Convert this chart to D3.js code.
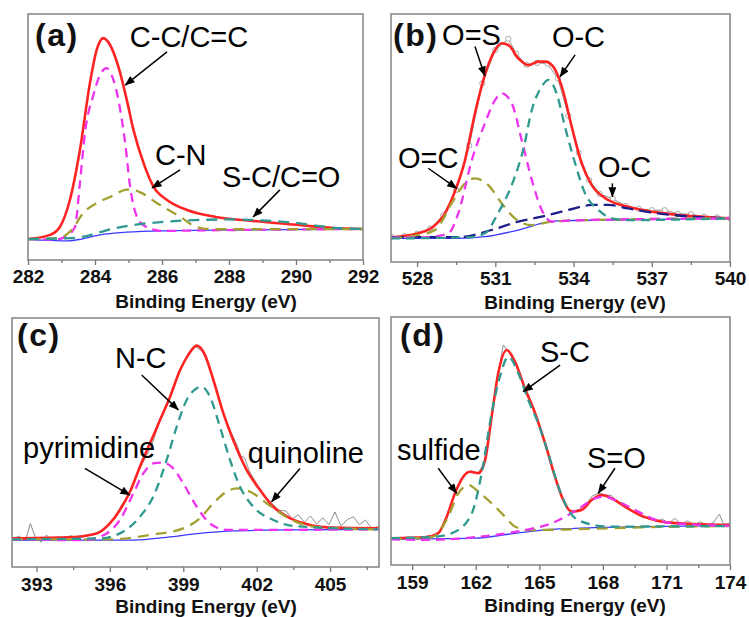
<!DOCTYPE html>
<html>
<head>
<meta charset="utf-8">
<script src="https://cdn.jsdelivr.net/npm/d3@7"></script>
<style>
  body { margin: 0; background: #fff; }
  svg { display: block; font-family: "Liberation Sans", Arial, sans-serif; }
</style>
</head>
<body>
<svg id="chart" width="749" height="617"></svg>
<script>
// ---- (a) C 1s ----
const aDomain = [282, 292];
const aTicks = [282, 284, 286, 288, 290, 292];
const aMinor = [283, 285, 287, 289, 291];
const aEnvelope = [[282, 8.5], [282.66, 10.2], [282.95, 13.4], [283.25, 24.4], [283.55, 44.7], [283.85, 72], [284.05, 85.4],
  [284.25, 90.2], [284.45, 87.4], [284.7, 78.5], [284.95, 65], [285.15, 52.8], [285.45, 39.4], [285.75, 29.7],
  [286.15, 24.4], [286.75, 20.3], [287.6, 17.5], [288.7, 15.9], [290.1, 14.2], [291.1, 13], [292, 12.6]];
const aCC = [[282, 8.5], [282.8, 8.3], [283.1, 9.3], [283.4, 13.4], [283.55, 31.3], [283.7, 51.6], [283.95, 67],
  [284.15, 75.2], [284.34, 78], [284.55, 73.2], [284.7, 65], [284.9, 47.6], [285.05, 29.7], [285.3, 16.3],
  [285.6, 13], [286, 11.8], [287, 12], [292, 12.6]];
const aCN = [[282, 8.5], [282.9, 8.9], [283.3, 12.2], [283.65, 19.1], [284.05, 23.2], [284.45, 25.6], [284.9, 28.5],
  [285.05, 28.7], [285.4, 27.2], [285.8, 23.6], [286.2, 20.3], [286.6, 17.1], [286.9, 14.2], [287.2, 12.9],
  [287.6, 12.5], [292, 12.6]];
const aSCCO = [[282, 8.5], [283.15, 8.8], [283.65, 9.5], [284.15, 11.3], [284.65, 13.1], [285.35, 14.6], [286.14, 15.6],
  [287.13, 16.3], [288.12, 16.5], [289.12, 16], [290.12, 14.9], [290.7, 13.8], [291.3, 12.9], [292, 12.6]];
const aBackground = [[282, 8.4], [283.2, 7.8], [283.6, 8.5], [284.15, 10.2], [284.95, 11.3], [286.2, 11.9],
  [288.2, 12.2], [292, 12.6]];
const aLabels = [["C-C/C=C", 285.04, 86.6], ["C-N", 285.79, 38.6], ["S-C/C=O", 287.79, 29.7]];
const aArrows = [[286.15, 84.6, 284.9, 71.1], [286.54, 36.6, 285.7, 29.3], [289.52, 28.5, 288.72, 17.5]];

// ---- (b) O 1s ----
const bDomain = [527, 540];
const bTicks = [528, 531, 534, 537, 540];
const bMinor = [529.5, 532.5, 535.5, 538.5];
const bRaw = [[527, 10.2], [527.5, 10.4], [528, 11.4], [528.5, 13.5], [529, 18.8], [529.5, 29], [530, 47],
  [530.5, 72], [531, 85.5], [531.5, 90], [531.8, 84], [532.2, 79.5], [532.6, 80.3], [533, 80], [533.4, 74],
  [533.8, 59], [534.2, 44], [534.6, 33], [535, 27.5], [535.5, 25.5], [536, 22.6], [536.5, 21.5], [537, 20.9],
  [537.5, 20.9], [538, 19.4], [538.5, 19.3], [539, 18.3], [539.5, 18], [540, 17.6]];
const bEnvelope = [[527.03, 10], [528.05, 11.6], [528.62, 14.2], [529.07, 19.6], [529.45, 28.4], [529.84, 41.1],
  [530.22, 60], [530.6, 75.4], [530.92, 84.1], [531.24, 88.2], [531.5, 87.5], [531.88, 82.1], [532.27, 79.4],
  [532.65, 80.8], [532.9, 80.8], [533.22, 78.8], [533.55, 70.7], [533.93, 54.6], [534.31, 39.8], [534.7, 31],
  [535.33, 25], [536.1, 22.3], [537.25, 19.9], [538.53, 18.5], [540, 17.6]];
const bOS = [[527, 9.8], [528.4, 10], [529.2, 11.6], [529.58, 19.6], [530.1, 41.1], [530.6, 55.9], [530.99, 65.3],
  [531.24, 68], [531.63, 64], [532.01, 49.2], [532.4, 33.1], [532.78, 21], [533.16, 16.3], [534, 16.8], [540, 17.6]];
const bOCHigh = [[527, 9.5], [530, 10], [530.6, 11.6], [531.1, 19.6], [531.75, 34.4], [532.07, 45.2], [532.4, 61.3],
  [532.78, 70.7], [533.03, 73.4], [533.35, 68], [533.67, 54.6], [534.06, 39.8], [534.44, 27.7], [534.95, 21],
  [535.46, 17.6], [536.1, 16.9], [540, 17.6]];
const bOC = [[527, 9.6], [528.05, 10.9], [528.69, 12.9], [529.33, 23.7], [529.84, 31.7], [530.22, 33.7],
  [530.73, 31], [531.24, 23.7], [531.75, 17.6], [532.4, 14.9], [533.16, 16.3], [534.5, 16.9], [540, 17.6]];
const bOCLow = [[527.03, 10], [529.58, 10], [530.86, 12.9], [531.88, 16.3], [532.78, 18.3], [533.8, 21],
  [534.7, 23], [535.33, 23], [536.1, 21.6], [537.25, 19.6], [538.53, 18.3], [540, 17.6]];
const bBackground = [[527.03, 9.5], [529.58, 9.5], [530.6, 10.2], [531.88, 12.9], [532.78, 15.6], [533.55, 16.7],
  [535.33, 16.9], [540, 17.6]];
const bLabels = [["O=S", 528.96, 87.5], ["O-C", 533.17, 86.7], ["O=C", 527.27, 37.9], ["O-C", 534.94, 34.3]];
const bArrows = [[530.22, 86.9, 530.6, 75], [534.06, 83.5, 533.48, 74.7], [528.43, 37.8, 529.52, 29.7],
  [535.49, 31.7, 535.49, 26.3]];

// ---- (c) N 1s ----
const cDomain = [392, 407];
const cTicks = [393, 396, 399, 402, 405];
const cMinor = [394.5, 397.5, 400.5, 403.5, 406.5];
const cRaw = [[392, 11.2], [392.3, 12.4], [392.55, 10.6], [392.75, 17.5], [392.95, 12], [393.2, 10], [393.4, 12.8],
  [393.65, 10.9], [393.9, 12.2], [394.15, 11], [394.4, 12.6], [394.7, 11.4], [395, 12.5], [395.3, 13], [395.6, 14.5],
  [395.9, 16.6], [396.2, 20], [396.5, 25.3], [396.8, 29], [397.1, 37], [397.4, 42.9], [397.7, 48.5], [398, 57.5],
  [398.3, 64], [398.6, 72], [398.9, 79.5], [399.2, 85.8], [399.5, 88.5], [399.8, 86.5], [400.1, 79], [400.4, 69.5],
  [400.7, 60], [401, 53], [401.2, 49], [401.35, 44.5], [401.5, 44], [401.7, 38.5], [402, 33.5], [402.3, 28.8],
  [402.6, 25.8], [402.9, 22.8], [403.2, 22.5], [403.45, 19.2], [403.7, 21], [403.95, 18], [404.2, 20.5],
  [404.45, 17.2], [404.7, 19.8], [404.95, 17], [405.2, 22.1], [405.45, 16.4], [405.7, 19], [405.95, 20.2],
  [406.2, 17], [406.45, 18.9], [406.7, 15.5], [407, 16.3]];
const cEnvelope = [[392, 11.5], [394.23, 11.9], [395.46, 13.5], [396, 17.5], [396.41, 22.9], [396.82, 30.2],
  [397.23, 40.3], [397.64, 49.7], [398.05, 59], [398.46, 68.4], [398.87, 79.1], [399.2, 85.1], [399.55, 88.9],
  [399.89, 85.1], [400.23, 75.1], [400.64, 61.7], [401.04, 51], [401.59, 39], [402.14, 30.9], [402.68, 24.2],
  [403.36, 19.6], [404.18, 16.9], [405.13, 15.8], [407, 15.5]];
const cPyrimidine = [[392, 11.1], [394.9, 10.8], [395.87, 13.5], [396.41, 18.9], [396.96, 29.6], [397.37, 37.6],
  [397.77, 41.6], [398.18, 41.9], [398.59, 39.6], [399, 33.6], [399.55, 24.2], [400.09, 17.5], [400.77, 14.9],
  [401.73, 14.9], [407, 15.1]];
const cNC = [[392, 11.1], [395.6, 11.5], [396.41, 13.5], [397.23, 20.2], [397.77, 28.2], [398.32, 43], [398.73, 56.3],
  [399.14, 67.1], [399.55, 71.8], [399.75, 72.4], [400.09, 68.4], [400.5, 56.3], [400.91, 43], [401.32, 32.2],
  [401.86, 24.2], [402.68, 18.9], [403.5, 16.5], [407, 15.1]];
const cQuinoline = [[392, 11.1], [396, 11.1], [397.64, 12.9], [399, 15.5], [399.68, 19.6], [400.23, 25.6],
  [400.77, 30.2], [401.18, 31.6], [401.73, 30.2], [402.41, 25.6], [403.09, 20.9], [403.77, 17.5], [404.59, 15.9],
  [407, 15.1]];
const cBackground = [[392, 10.8], [396.96, 10.8], [398.32, 11.9], [399.68, 13.5], [401.04, 14.5], [403.09, 14.9],
  [407, 15.1]];
const cLabels = [["N-C", 396.21, 79.9], ["pyrimidine", 392.45, 43.8], ["quinoline", 401.64, 41.6]];
const cArrows = [[397.3, 77.1, 398.8, 63.1], [394.98, 39.6, 396.82, 28.9], [403.77, 39.6, 402.61, 26.2]];

// ---- (d) S 2p ----
const dDomain = [158, 174];
const dTicks = [159, 162, 165, 168, 171, 174];
const dMinor = [160.5, 163.5, 166.5, 169.5, 172.5];
const dRaw = [[158, 11], [158.4, 10.6], [158.8, 11.3], [159.2, 10.8], [159.6, 11.5], [160, 12], [160.3, 13.8],
  [160.6, 19], [160.9, 26], [161.2, 32.5], [161.5, 36.5], [161.8, 38], [162.1, 37.2], [162.4, 41], [162.7, 56],
  [163, 74.5], [163.3, 88.7], [163.6, 85.5], [163.9, 81], [164.2, 74], [164.5, 68.5], [164.8, 62], [165.1, 54],
  [165.4, 46], [165.7, 37], [166, 28.5], [166.3, 22.5], [166.6, 21.8], [166.9, 22.5], [167.2, 24.5], [167.5, 27.8],
  [167.8, 29], [168.1, 28.3], [168.4, 28], [168.7, 25.5], [169, 24.8], [169.3, 22], [169.6, 20.8], [169.9, 19],
  [170.2, 19.5], [170.5, 17.4], [170.8, 18.6], [171.1, 16.8], [171.4, 18.8], [171.7, 16.4], [172, 17.8],
  [172.3, 16.2], [172.6, 17.5], [172.9, 16], [173.2, 17], [173.5, 20.5], [173.7, 16.4], [174, 16.8]];
const dEnvelope = [[158.03, 10.8], [159.6, 11.2], [160.23, 12.8], [160.63, 19.5], [161.02, 28.9], [161.41, 35.6],
  [161.73, 37.6], [162.12, 37], [162.44, 42.3], [162.75, 59.8], [163.06, 77.3], [163.46, 86.7], [163.85, 82],
  [164.32, 71.2], [164.8, 61.2], [165.27, 49.1], [165.74, 35.6], [166.13, 26.2], [166.53, 21.5], [167, 22.2],
  [167.47, 26.2], [167.94, 28.2], [168.41, 26.9], [169.04, 23.5], [169.83, 19.8], [170.77, 17.5], [172.19, 16.5],
  [174, 16.1]];
const dSC = [[158, 10.8], [160.08, 11.4], [161.02, 13.4], [161.81, 20.8], [162.28, 37], [162.75, 61.2],
  [163.14, 75.9], [163.54, 84], [164.01, 77.3], [164.48, 66.5], [164.95, 57.1], [165.42, 45], [165.9, 31.6],
  [166.37, 22.2], [167, 17.5], [168.25, 15.5], [174, 15.7]];
const dSulfide = [[158, 10.4], [159.92, 11.2], [160.7, 19.5], [161.18, 28.9], [161.65, 32.3], [162.12, 29.6],
  [162.75, 24.9], [163.38, 19.5], [163.85, 15.5], [164.48, 14.1], [166.68, 14.4], [169.83, 15.2], [174, 15.7]];
const dSO = [[158, 10.4], [159.6, 10.1], [161.96, 11.2], [164.32, 14.1], [165.58, 16.8], [166.37, 20.2], [167, 23.5],
  [167.63, 26.9], [168.1, 27.5], [168.73, 25.5], [169.52, 22.2], [170.3, 18.8], [171.4, 16.8], [174, 15.8]];
const dBackground = [[158, 10.4], [161.96, 10.8], [163.54, 12.4], [165.11, 14.1], [166.68, 14.8], [169.83, 15.5],
  [174, 15.8]];
const dLabels = [["S-C", 165.03, 81.9], ["sulfide", 158.28, 42.3], ["S=O", 167.25, 39.1]];
const dArrows = [[165.98, 80.6, 164.24, 69.9], [160.23, 39, 161.1, 28.9], [168.57, 39, 167.78, 28.9]];

const yDomain = [0, 100];

// colours
const RED = "#ff2323", MAGENTA = "#ee33ee", OLIVE = "#a3a032", TEAL = "#2f9990", NAVY = "#1e1e88",
      BLUE = "#3a3aff", GRAY = "#8f8f8f";

const svg = d3.select("#chart");

svg.append("defs").append("marker")
    .attr("id", "arrow")
    .attr("viewBox", "0 0 10 8")
    .attr("refX", 9.5).attr("refY", 4)
    .attr("markerWidth", 11).attr("markerHeight", 8)
    .attr("markerUnits", "userSpaceOnUse")
    .attr("orient", "auto")
  .append("path")
    .attr("d", "M0,0 L10,4 L0,8 Z")
    .attr("fill", "#000");

function drawPanel(p) {
  const x = d3.scaleLinear().domain(p.domain).range([p.left, p.right]);
  const y = d3.scaleLinear().domain(yDomain).range([p.bottom, p.top]);
  const g = svg.append("g");

  const clipId = "clip-" + p.name;
  svg.select("defs").append("clipPath").attr("id", clipId)
    .append("rect")
      .attr("x", p.left).attr("y", p.top)
      .attr("width", p.right - p.left).attr("height", p.bottom - p.top);

  const smooth = d3.line()
      .x(d => x(d[0]))
      .y(d => y(d[1]))
      .curve(d3.curveMonotoneX);
  const straight = d3.line()
      .x(d => x(d[0]))
      .y(d => y(d[1]));

  const plot = g.append("g").attr("clip-path", `url(#${clipId})`);

  if (p.raw) {
    plot.append("path").datum(p.raw)
        .attr("d", straight)
        .attr("fill", "none").attr("stroke", GRAY).attr("stroke-width", 1);
    if (p.rawDots) {
      plot.selectAll(".dot").data(p.raw).enter().append("circle")
          .attr("cx", d => x(d[0])).attr("cy", d => y(d[1])).attr("r", 2.6)
          .attr("fill", "#fff").attr("stroke", "#a8a8a8").attr("stroke-width", 1);
    }
  }

  plot.append("path").datum(p.background)
      .attr("d", smooth)
      .attr("fill", "none").attr("stroke", BLUE).attr("stroke-width", 1.3);

  plot.append("path").datum(p.envelope)
      .attr("d", smooth)
      .attr("fill", "none").attr("stroke", RED).attr("stroke-width", 2.6);

  p.components.forEach(c => {
    plot.append("path").datum(c.data)
        .attr("d", smooth)
        .attr("fill", "none").attr("stroke", c.color).attr("stroke-width", 2.3)
        .attr("stroke-dasharray", c.dash || "9,6");
  });

  // frame
  g.append("rect")
      .attr("x", p.left).attr("y", p.top)
      .attr("width", p.right - p.left).attr("height", p.bottom - p.top)
      .attr("fill", "none").attr("stroke", "#8a8a8a").attr("stroke-width", 1.6);

  // minor ticks
  const minor = g.append("g")
      .attr("transform", `translate(0,${p.bottom})`)
      .call(d3.axisBottom(x).tickValues(p.minor).tickSize(3).tickFormat(""));
  minor.select(".domain").remove();
  minor.selectAll("line").attr("stroke", "#777").attr("stroke-width", 1.3);

  // major ticks and labels
  const ax = g.append("g")
      .attr("transform", `translate(0,${p.bottom})`)
      .call(d3.axisBottom(x).tickValues(p.ticks).tickSize(5).tickFormat(d3.format("d")));
  ax.select(".domain").remove();
  ax.selectAll("line").attr("stroke", "#777").attr("stroke-width", 1.3);
  ax.selectAll("text")
      .attr("y", p.tickBase).attr("dy", null)
      .attr("fill", "#111")
      .style("font-size", "19px").style("font-weight", "bold")
      .style("font-family", "'Liberation Sans', Arial, sans-serif");

  g.append("text")
      .attr("x", p.titleX).attr("y", p.bottom + p.titleBase)
      .attr("text-anchor", "middle")
      .style("font-size", "19px").style("font-weight", "bold").attr("fill", "#111")
      .text("Binding Energy (eV)");

  // panel letter
  g.append("text")
      .attr("x", p.letterX).attr("y", p.letterY)
      .style("font-size", "32px").style("font-weight", "bold").style("letter-spacing", "1.5px")
      .attr("fill", "#111")
      .text(p.letter);

  // annotations
  g.selectAll(".lab").data(p.labels).enter().append("text")
      .attr("x", d => x(d[1])).attr("y", d => y(d[2]))
      .style("font-size", "29px").attr("fill", "#000")
      .text(d => d[0]);

  g.selectAll(".arr").data(p.arrows).enter().append("line")
      .attr("x1", d => x(d[0])).attr("y1", d => y(d[1]))
      .attr("x2", d => x(d[2])).attr("y2", d => y(d[3]))
      .attr("stroke", "#000").attr("stroke-width", 1.5)
      .attr("marker-end", "url(#arrow)");
}

drawPanel({
  name: "a", letter: "(a)", domain: aDomain, ticks: aTicks, minor: aMinor,
  left: 28, right: 363, top: 14, bottom: 260, tickBase: 23, titleBase: 48, titleX: 206,
  letterX: 35, letterY: 46,
  envelope: aEnvelope, background: aBackground,
  components: [
    { data: aCC, color: MAGENTA },
    { data: aCN, color: OLIVE, dash: "11,7" },
    { data: aSCCO, color: TEAL, dash: "11,7" }
  ],
  labels: aLabels, arrows: aArrows
});

drawPanel({
  name: "b", letter: "(b)", domain: bDomain, ticks: bTicks, minor: bMinor,
  left: 391, right: 730, top: 14, bottom: 262, tickBase: 23, titleBase: 47, titleX: 575,
  letterX: 393, letterY: 46,
  raw: bRaw, rawDots: true,
  envelope: bEnvelope, background: bBackground,
  components: [
    { data: bOCLow, color: NAVY, dash: "12,6" },
    { data: bOC, color: OLIVE, dash: "11,7" },
    { data: bOS, color: MAGENTA },
    { data: bOCHigh, color: TEAL }
  ],
  labels: bLabels, arrows: bArrows
});

drawPanel({
  name: "c", letter: "(c)", domain: cDomain, ticks: cTicks, minor: cMinor,
  left: 12, right: 379, top: 318, bottom: 567, tickBase: 24, titleBase: 46, titleX: 206,
  letterX: 17, letterY: 346,
  raw: cRaw,
  envelope: cEnvelope, background: cBackground,
  components: [
    { data: cQuinoline, color: OLIVE, dash: "11,7" },
    { data: cPyrimidine, color: MAGENTA },
    { data: cNC, color: TEAL }
  ],
  labels: cLabels, arrows: cArrows
});

drawPanel({
  name: "d", letter: "(d)", domain: dDomain, ticks: dTicks, minor: dMinor,
  left: 391, right: 730, top: 317, bottom: 565, tickBase: 24, titleBase: 47, titleX: 575,
  letterX: 400, letterY: 346,
  raw: dRaw,
  envelope: dEnvelope, background: dBackground,
  components: [
    { data: dSulfide, color: OLIVE, dash: "11,7" },
    { data: dSO, color: MAGENTA },
    { data: dSC, color: TEAL }
  ],
  labels: dLabels, arrows: dArrows
});
</script>
</body>
</html>
